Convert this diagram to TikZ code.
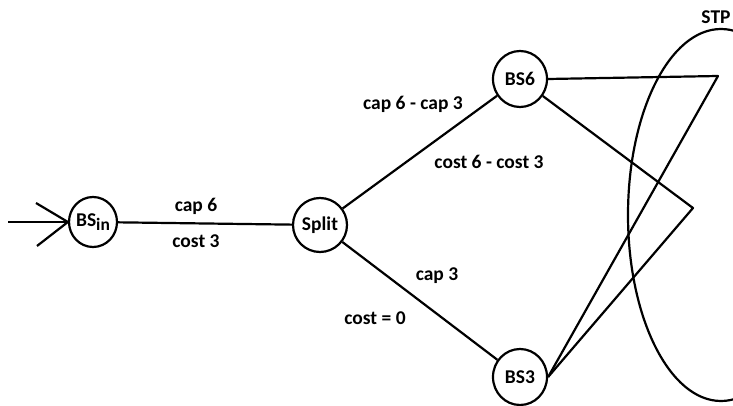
\documentclass[tikz,border=0pt]{standalone}
\usepackage{fontspec}
\setmainfont{Carlito}
\usetikzlibrary{shapes.geometric}
\begin{document}
\begin{tikzpicture}[x=1pt,y=-1pt,
  line width=2.2pt, line join=round,
  font=\fontsize{19.5}{21}\selectfont\bfseries,
  station/.style={draw, ellipse, minimum width=54pt, minimum height=54pt, inner sep=0pt},
  lbl/.style={inner sep=0pt}]
\useasboundingbox (0,0) rectangle (733,406);
\clip (0,0) rectangle (733,406);

% switching nodes
\node[station, minimum width=48pt, minimum height=50pt] (bsin) at (93,222)
  {BS\raisebox{-0.45ex}{\fontsize{17.5}{17.5}\selectfont in}};
\node[station] (split) at (320,225) {Split};
\node[station, minimum height=56pt] (bs6) at (520,79) {BS6};
\node[station, minimum height=56pt] (bs3) at (520,377) {BS3};

% STP region
\node[draw, ellipse, minimum width=186pt, minimum height=372pt, inner sep=0pt] (stp) at (721,215) {};
\node[lbl] (stplbl) at (716,17) {STP};

% incoming link with open head
\coordinate (src) at (8,222);
\coordinate (h1) at (36,203);
\coordinate (h2) at (37,246);
\draw (src) -- (bsin.west);
\draw (h1) -- (bsin.west);
\draw (h2) -- (bsin.west);

% links between switching nodes
\draw (bsin) -- (split);
\draw (split) -- (bs6);
\draw (split) -- (bs3);

% links into the STP
\coordinate (p1) at (718,76);
\coordinate (p2) at (693,208);
\draw (bs6.east) -- (p1) -- (bs3.east);
\draw (bs6) -- (p2) -- (bs3.east);

% link labels
\node[lbl] (l1) at (196,206) {cap 6};
\node[lbl] (l2) at (196,241) {cost 3};
\node[lbl] (l3) at (413,104) {cap 6 - cap 3};
\node[lbl] (l4) at (489,162) {cost 6 - cost 3};
\node[lbl] (l5) at (437,276) {cap 3};
\node[lbl] (l6) at (375,318) {cost = 0};
\end{tikzpicture}
\end{document}
